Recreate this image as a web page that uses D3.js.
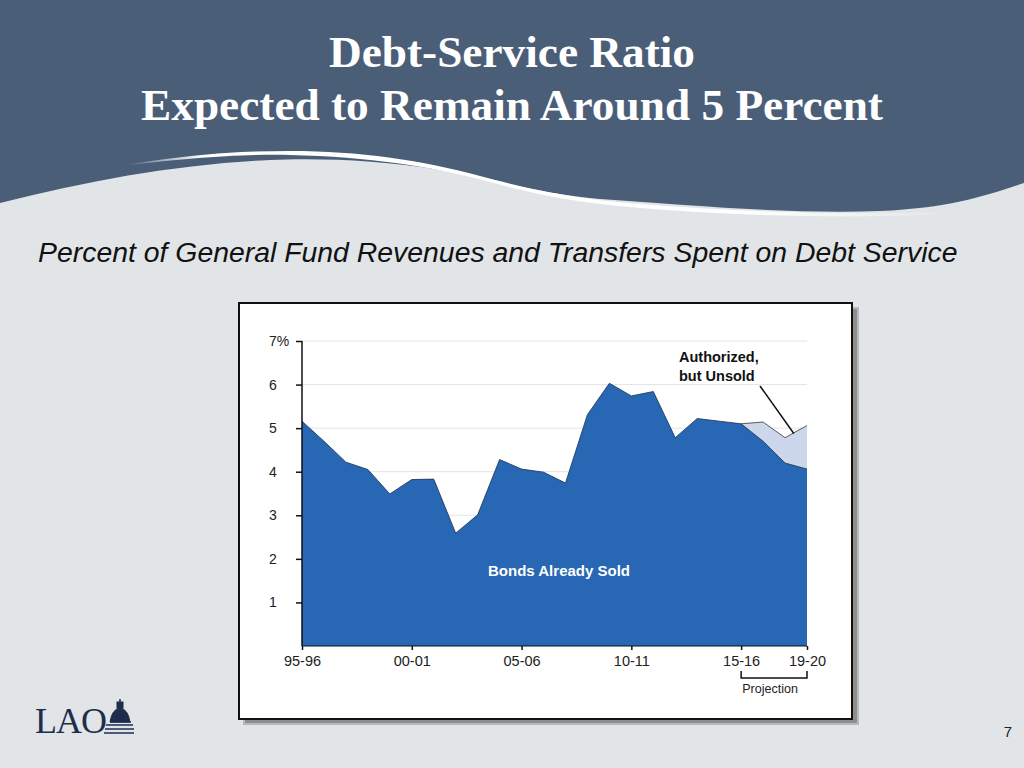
<!DOCTYPE html>
<html>
<head>
<meta charset="utf-8">
<script src="https://cdn.jsdelivr.net/npm/d3@7"></script>
<style>
html,body{margin:0;padding:0;background:#e1e5e8;}
svg{display:block;}
</style>
</head>
<body>
<svg id="c" width="1024" height="768"></svg>
<script>
// ---- data ----
const categories = ["95-96","96-97","97-98","98-99","99-00","00-01","01-02","02-03","03-04","04-05",
  "05-06","06-07","07-08","08-09","09-10","10-11","11-12","12-13","13-14","14-15",
  "15-16","16-17","17-18","19-20"];
const bondsSold = [5.16,4.70,4.22,4.05,3.49,3.82,3.83,2.59,3.01,4.28,
  4.06,3.99,3.74,5.31,6.03,5.74,5.84,4.78,5.22,5.16,
  5.10,4.70,4.20,4.06];
const authorizedUnsold = [0,0,0,0,0,0,0,0,0,0,
  0,0,0,0,0,0,0,0,0,0,
  0,0.44,0.58,1.00];
const projectionStart = 20; // index where projection begins
const xTickLabels = ["95-96","00-01","05-06","10-11","15-16","19-20"];
const yTicks = [1,2,3,4,5,6,7];
const titleLines = ["Debt-Service Ratio","Expected to Remain Around 5 Percent"];
const subtitle = "Percent of General Fund Revenues and Transfers Spent on Debt Service";

const svg = d3.select("#c");

// ---- background & header ----
svg.append("rect").attr("width",1024).attr("height",768).attr("fill","#e1e5e8");
svg.append("path")
  .attr("d","M0,0 H1024 V183 C 985,196 950,208 880,211 C 790,214 700,206 600,199 C 540,194 500,180 440,170 C 380,160 320,158 270,160 C 180,164 90,180 0,203 Z")
  .attr("fill","#4a5e78");
const defs = svg.append("defs");
const rg = defs.append("linearGradient").attr("id","rib").attr("x1","0").attr("x2","1");
rg.append("stop").attr("offset","0").attr("stop-color","#fff").attr("stop-opacity",0);
rg.append("stop").attr("offset","0.1").attr("stop-color","#fff").attr("stop-opacity",1);
rg.append("stop").attr("offset","0.75").attr("stop-color","#fff").attr("stop-opacity",1);
rg.append("stop").attr("offset","1").attr("stop-color","#fff").attr("stop-opacity",0);
svg.append("path")
  .attr("d","M120,166 C 190,154 240,151 290,151 C 360,151 420,160 480,176 C 540,192 580,199 640,204 C 740,212 840,215 960,212 L 960,214 C 840,219 740,216 640,208 C 580,203 540,196 490,182 C 430,166 370,157 290,155 C 240,154 190,158 120,166 Z")
  .attr("fill","url(#rib)");

// titles
svg.selectAll("text.title").data(titleLines).enter().append("text")
  .attr("class","title")
  .attr("x",512).attr("y",(d,i)=>67+i*53)
  .attr("text-anchor","middle")
  .attr("font-family","'Liberation Serif','Times New Roman',serif")
  .attr("font-weight","bold").attr("font-size",45.3).attr("fill","#ffffff")
  .text(d=>d);

svg.append("text").attr("x",38).attr("y",262)
  .attr("font-family","'Liberation Sans',Arial,sans-serif")
  .attr("font-style","italic").attr("font-size",28.4).attr("fill","#111")
  .text(subtitle);

// ---- chart frame ----
svg.append("rect").attr("x",244).attr("y",308).attr("width",614).attr("height",416)
  .attr("fill","#8e8e8e").attr("stroke","#b8b8b8").attr("stroke-width",2);
svg.append("rect").attr("x",239).attr("y",303).attr("width",613).attr("height",416)
  .attr("fill","#ffffff").attr("stroke","#111").attr("stroke-width",2);

// ---- scales ----
const x = d3.scalePoint().domain(categories).range([302,807]);
const y = d3.scaleLinear().domain([0,7]).range([646,341]);

const g = svg.append("g");
// grid
g.selectAll("line.grid").data(yTicks).enter().append("line")
  .attr("x1",302).attr("x2",807).attr("y1",d=>y(d)).attr("y2",d=>y(d))
  .attr("stroke","#e4e4e4").attr("stroke-width",1);

const rows = categories.map((c,i)=>({c, sold:bondsSold[i], total:bondsSold[i]+authorizedUnsold[i]}));
const proj = rows.slice(projectionStart);

// unsold area
g.append("path").datum(proj)
  .attr("d", d3.area().x(d=>x(d.c)).y0(d=>y(d.sold)).y1(d=>y(d.total)))
  .attr("fill","#cdd7ec");
g.append("path").datum(proj)
  .attr("d", d3.line().x(d=>x(d.c)).y(d=>y(d.total)))
  .attr("fill","none").attr("stroke","#333").attr("stroke-width",0.8);
// sold area
g.append("path").datum(rows)
  .attr("d", d3.area().x(d=>x(d.c)).y0(y(0)).y1(d=>y(d.sold)))
  .attr("fill","#2767b3");
g.append("path").datum(rows)
  .attr("d", d3.line().x(d=>x(d.c)).y(d=>y(d.sold)))
  .attr("fill","none").attr("stroke","#1b2f55").attr("stroke-width",0.8);

// y axis
const yAxis = g.append("g").attr("transform","translate(302,0)")
  .call(d3.axisLeft(y).tickValues(yTicks).tickSize(6).tickFormat(""));
yAxis.select(".domain").attr("d",`M0,${y(7)}V${y(0)}`).attr("stroke","#111").attr("stroke-width",1.5);
yAxis.selectAll(".tick line").attr("stroke","#111").attr("stroke-width",1.5);
g.selectAll("text.ylab").data(yTicks).enter().append("text")
  .attr("x",269).attr("y",d=>y(d)+5)
  .attr("font-family","'Liberation Sans',Arial,sans-serif").attr("font-size",14).attr("fill","#222")
  .text(d=>d===7?"7%":d);

// x axis
const xAxis = g.append("g").attr("transform",`translate(0,${y(0)})`)
  .call(d3.axisBottom(x).tickValues(xTickLabels).tickSize(4).tickPadding(6));
xAxis.select(".domain").attr("d","M302,0H807").attr("stroke","#111").attr("stroke-width",1.2);
xAxis.selectAll(".tick line").attr("stroke","#111").attr("stroke-width",1.5);
xAxis.selectAll(".tick text")
  .attr("font-family","'Liberation Sans',Arial,sans-serif").attr("font-size",14.5).attr("fill","#222");

// projection bracket
const bx0 = x(categories[projectionStart]), bx1 = x(categories[categories.length-1]);
g.append("path").attr("d",`M${bx0},671V678H${bx1}V671`)
  .attr("fill","none").attr("stroke","#111").attr("stroke-width",1.5);
g.append("text").attr("x",(bx0+bx1)/2-4).attr("y",693).attr("text-anchor","middle")
  .attr("font-family","'Liberation Sans',Arial,sans-serif").attr("font-size",12.5).attr("fill","#222")
  .text("Projection");

// labels
g.append("text").attr("x",559).attr("y",576).attr("text-anchor","middle")
  .attr("font-family","'Liberation Sans',Arial,sans-serif").attr("font-weight","bold")
  .attr("font-size",15).attr("fill","#ffffff").text("Bonds Already Sold");
const ann = g.append("text").attr("font-family","'Liberation Sans',Arial,sans-serif")
  .attr("font-weight","bold").attr("font-size",14.5).attr("fill","#111");
ann.append("tspan").attr("x",679).attr("y",362).text("Authorized,");
ann.append("tspan").attr("x",679).attr("y",381).text("but Unsold");
const ix = 22.4;
const ax = x(categories[22]) + (x(categories[23])-x(categories[22]))*(ix-22);
g.append("line").attr("x1",760).attr("y1",386).attr("x2",ax).attr("y2",y(4.9)+1)
  .attr("stroke","#111").attr("stroke-width",1.5);

// ---- footer ----
svg.append("text").attr("x",35).attr("y",733)
  .attr("font-family","'Liberation Serif','Times New Roman',serif")
  .attr("font-size",36).attr("fill","#1f2d4d").attr("letter-spacing",-1).text("LAO");
const logo = svg.append("g").attr("fill","#1f2d4d").attr("stroke","#1f2d4d");
logo.append("path").attr("d","M110,722 Q112,709 120,708 Q128,709 130,722 Z");
logo.append("rect").attr("x",117).attr("y",702).attr("width",6).attr("height",6);
logo.append("path").attr("d","M120,699 V702").attr("stroke-width",1.5);
logo.append("path").attr("d","M106,725 H133 M105,729 H134 M104,733 H134").attr("stroke-width",1.6).attr("fill","none");
logo.append("path").attr("d","M110,722 H131").attr("stroke-width",1.5);

svg.append("text").attr("x",1008).attr("y",737).attr("text-anchor","middle")
  .attr("font-family","'Liberation Sans',Arial,sans-serif").attr("font-size",15).attr("fill","#222").text("7");
</script>
</body>
</html>
